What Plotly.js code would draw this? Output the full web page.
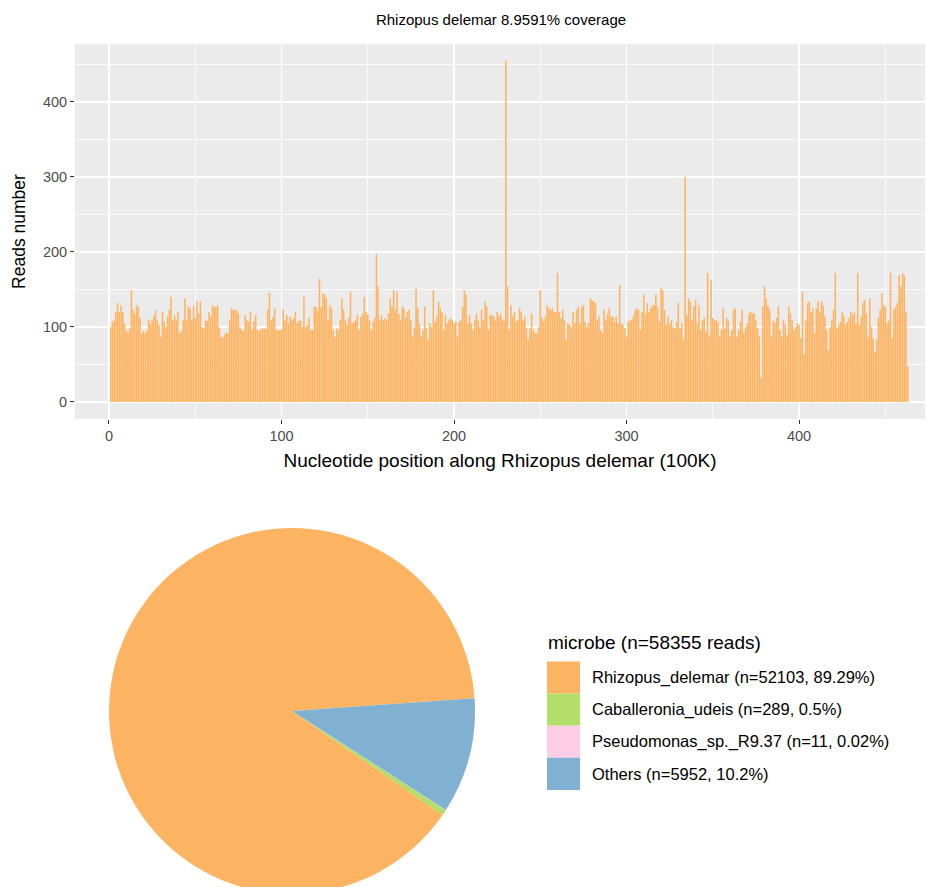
<!DOCTYPE html>
<html>
<head>
<meta charset="utf-8">
<script src="https://cdn.plot.ly/plotly-3.0.1.min.js"></script>
<style>
html,body{margin:0;padding:0;overflow:hidden;background:#ffffff;}
#chart{width:940px;height:900px;}
</style>
</head>
<body>
<div id="chart"></div>
<script>
// ---- Data: reads per 100K bin along Rhizopus delemar (bins 1..N) ----
const readsPerBin = [
  100,107,109,120,132,120,129,120,105,96, 92,98,149,123,118,129,127,112,92,95,
  92,96,110,104,109,115,122,109,103,87, 120,107,100,114,123,140,109,116,109,120,
  92,95,109,138,109,127,125,109,129,112, 134,118,
  134,100,98,109,108,120,114,129,127,127, 129,100,87,86,90,92,92,109,125,123,
  122,123,118,100,96,95,116,109,107,120, 96,108,116,96,95,97,98,98,97,123,
  145,109,113,125,96,95,96,97,123,109, 116,105,114,109,112,120,105,108,
  109,100,140,100,103,112,96,96,127,127, 122,164,127,145,143,138,109,129,125,96,
  87,98,96,109,138,123,109,103,112,147, 105,107,109,116,96,114,118,140,120,116,
  109,96,107,112,197,154,109,116,109,112, 109,118,138,127,149,123,147,118,109,127,
  125,112,120,123,109,87,100,151,125,103, 87,96,127,98,83,105,100,149,107,114,
  134,125,120,96,116,105,109,112,109,105, 107,87,107,109,127,149,143,105,116,105,
  96,109,118,109,100,123,109,134,127,96, 116,116,114,109,120,114,118,110,108,
  455,154,96,129,114,120,107,109,125,120, 109,114,98,83,98,118,96,92,92,100,
  149,112,107,114,129,125,123,125,120,120, 172,120,112,123,109,83,105,103,100,120,
  105,123,127,105,127,129,107,100,105,138, 136,134,132,109,
  114,96,92,123,109,118,125,114,114,107, 114,105,156,105,103,98,87,107,109,109,
  114,123,125,123,96,120,143,118,132,120, 125,129,129,143,127,107,152,149,123,103,
  114,105,109,100,98,107,132,98,105,83, 300,116,138,134,109,127,136,105,
  129,96,109,112,94,172,87,163,112,109, 109,107,87,96,125,98,112,109,87,96,
  123,125,87,96,107,123,92,100,105,118, 120,118,118,109,98,87,32,127,154,138,
  129,123,87,109,105,112,127,96,87,109, 103,89,127,118,109,96,100,105,103,
  85,147,63,109,132,134,120,125,92,125, 134,120,134,129,114,96,69,100,109,123,
  172,98,103,107,120,114,103,107,112,120, 116,120,105,172,103,114,132,136,118,87,
  138,100,85,67,83,112,123,145,129,127, 105,109,172,85,123,127,132,169,154,172,
  169,120,47
];
const xTickVals = [0, 100, 200, 300, 400];
const yTickVals = [0, 100, 200, 300, 400];

// ---- Data: microbe composition ----
const microbes = ['Rhizopus_delemar', 'Caballeronia_udeis', 'Pseudomonas_sp._R9.37', 'Others'];
const microbeReads = [52103, 289, 11, 5952];
const microbePct = ['89.29%', '0.5%', '0.02%', '10.2%'];
const microbeColors = ['#FDB462', '#B3DE69', '#FCCDE5', '#80B1D3'];
const totalReads = 58355;

const chartTitle = 'Rhizopus delemar 8.9591% coverage';
const xTitle = 'Nucleotide position along Rhizopus delemar (100K)';
const yTitle = 'Reads number';

// ---- Layout helpers ----
const W = 940, H = 900;
const px = x => x / W;
const py = y => 1 - y / H;
const FONT = 'Liberation Sans, Arial, Helvetica, sans-serif';

const barTrace = {
  type: 'bar',
  x0: 1, dx: 1,
  y: readsPerBin,
  marker: {color: '#FDB462', line: {width: 0}},
  hoverinfo: 'x+y',
  xaxis: 'x', yaxis: 'y'
};

const pieTrace = {
  type: 'pie',
  labels: microbes,
  values: microbeReads,
  sort: false,
  direction: 'counterclockwise',
  rotation: 124.6,
  marker: {colors: microbeColors, line: {width: 0}},
  textinfo: 'none',
  hoverinfo: 'label+value+percent',
  showlegend: false,
  domain: {x: [px(109), px(475)], y: [py(894), py(528)]}
};

const axisCommon = {
  showgrid: true, gridcolor: '#FFFFFF', gridwidth: 1.6,
  zeroline: false, showline: false,
  ticks: 'outside', ticklen: 4, tickwidth: 1, tickcolor: '#333333',
  tickfont: {family: FONT, size: 14.5, color: '#4D4D4D'},
  tickmode: 'array',
  minor: {tickmode: 'linear', tick0: 0, dtick: 50, showgrid: true, gridcolor: '#FFFFFF', gridwidth: 0.8, ticks: ''},
  fixedrange: true
};

// Legend drawn as layout shapes + annotations, built from the data arrays
const legendTop = 661.5, rowH = 32.1;
const shapes = microbes.map((m, i) => ({
  type: 'rect', xref: 'paper', yref: 'paper',
  x0: px(547), x1: px(580),
  y0: py(legendTop + (i + 1) * rowH), y1: py(legendTop + i * rowH),
  fillcolor: microbeColors[i], line: {width: 0}, layer: 'above'
}));
const annotations = microbes.map((m, i) => ({
  xref: 'paper', yref: 'paper',
  x: px(590), y: py(legendTop + (i + 0.5) * rowH),
  xanchor: 'left', yanchor: 'middle', showarrow: false,
  text: m + ' (n=' + microbeReads[i] + ', ' + microbePct[i] + ')',
  font: {family: FONT, size: 16.5, color: '#000000'}
}));
annotations.push({
  xref: 'paper', yref: 'paper', x: px(546), y: py(642),
  xanchor: 'left', yanchor: 'middle', showarrow: false,
  text: 'microbe (n=' + totalReads + ' reads)',
  font: {family: FONT, size: 19, color: '#000000'}
});

const layout = {
  width: W, height: H,
  margin: {l: 0, r: 0, t: 0, b: 0, pad: 0},
  paper_bgcolor: '#FFFFFF',
  plot_bgcolor: '#EBEBEB',
  font: {family: FONT, color: '#000000'},
  showlegend: false,
  bargap: 0.1,
  title: {
    text: chartTitle,
    x: px(501), xanchor: 'center', xref: 'paper',
    y: py(20), yanchor: 'middle', yref: 'paper',
    font: {family: FONT, size: 15, color: '#000000'}
  },
  xaxis: Object.assign({}, axisCommon, {
    domain: [px(75), px(925)],
    range: [-19.7, 473],
    tickvals: xTickVals,
    ticktext: xTickVals.map(String),
    title: {text: xTitle, standoff: 10, font: {family: FONT, size: 19, color: '#000000'}},
    automargin: false,
    anchor: 'y'
  }),
  yaxis: Object.assign({}, axisCommon, {
    domain: [py(419), py(44)],
    range: [-22.7, 477.3],
    tickvals: yTickVals,
    ticktext: yTickVals.map(String),
    title: {text: yTitle, standoff: 12, font: {family: FONT, size: 17.5, color: '#000000'}},
    automargin: false,
    anchor: 'x'
  }),
  shapes: shapes,
  annotations: annotations
};

Plotly.newPlot('chart', [barTrace, pieTrace], layout, {displayModeBar: false, staticPlot: true});
</script>
</body>
</html>
